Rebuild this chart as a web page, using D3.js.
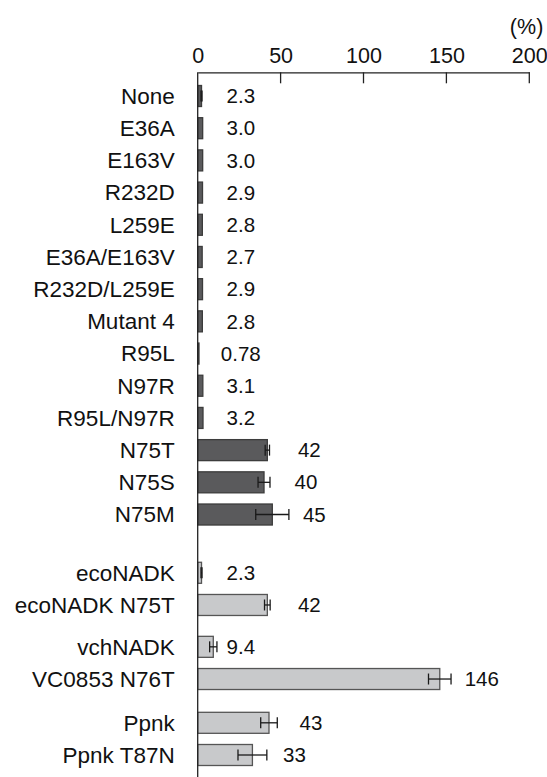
<!DOCTYPE html>
<html>
<head>
<meta charset="utf-8">
<script src="https://cdn.jsdelivr.net/npm/d3@7"></script>
<style>
  html, body { margin: 0; padding: 0; background: #fff; }
  svg { display: block; font-family: "Liberation Sans", Arial, sans-serif; }
</style>
</head>
<body>
<div id="chart"></div>
<script>
// ---- data ----
const categories = ["None", "E36A", "E163V", "R232D", "L259E", "E36A/E163V", "R232D/L259E",
  "Mutant 4", "R95L", "N97R", "R95L/N97R", "N75T", "N75S", "N75M",
  "ecoNADK", "ecoNADK N75T", "vchNADK", "VC0853 N76T", "Ppnk", "Ppnk T87N"];
const values = [2.3, 3.0, 3.0, 2.9, 2.8, 2.7, 2.9, 2.8, 0.78, 3.1, 3.2, 42, 40, 45,
  2.3, 42, 9.4, 146, 43, 33];
const valueLabels = ["2.3", "3.0", "3.0", "2.9", "2.8", "2.7", "2.9", "2.8", "0.78", "3.1", "3.2",
  "42", "40", "45", "2.3", "42", "9.4", "146", "43", "33"];
const errors = [0.3, 0, 0, 0, 0, 0, 0, 0, 0, 0, 0, 1.3, 3.6, 10,
  0.3, 1.7, 2.2, 6.8, 5, 8.7];
const groups = [0,0,0,0,0,0,0,0,0,0,0,0,0,0, 1,1, 2,2, 3,3];
const groupGaps = [0, 0.81, 0.30, 0.36];   // extra space (in rows) before each group
const groupFill = ["#5a5a5c", "#c8c9cb", "#c8c9cb", "#c8c9cb"];
const groupStroke = ["#3c3c3c", "#555555", "#555555", "#555555"];
const xTicks = [0, 50, 100, 150, 200];
const unitLabel = "(%)";

// ---- layout ----
const W = 547, H = 777;
const svg = d3.select("#chart").append("svg").attr("width", W).attr("height", H);

const x = d3.scaleLinear().domain([0, 200]).range([197.7, 529.3]);

// row positions including group gaps
let cum = 0;
const rows = categories.map((c, i) => {
  if (i > 0 && groups[i] !== groups[i - 1]) cum += groupGaps[groups[i]];
  return i + cum;
});
const y = d3.scaleLinear().domain([0, rows[rows.length - 1]]).range([96, 755]);
const barH = 21;
const axisY = 72.3;

const data = categories.map((c, i) => ({
  cat: c, v: values[i], e: errors[i], lab: valueLabels[i], g: groups[i], r: rows[i]
}));

// ---- top axis ----
const axis = d3.axisTop(x).tickValues(xTicks).tickSize(0).tickPadding(9).tickFormat(d3.format("d"));
const ax = svg.append("g").attr("transform", `translate(0,${axisY})`).call(axis);
ax.select(".domain").attr("stroke", "#222").attr("stroke-width", 1.3);
ax.selectAll(".tick text").attr("font-size", 21.5).attr("fill", "#111")
  .attr("font-family", "Liberation Sans, Arial, sans-serif");
// downward tick marks
svg.append("g").selectAll("line").data(xTicks.filter(d => d > 0)).join("line")
  .attr("x1", d => x(d)).attr("x2", d => x(d))
  .attr("y1", axisY).attr("y2", axisY + 11)
  .attr("stroke", "#222").attr("stroke-width", 1.3);

svg.append("text").attr("x", x(200) + 14).attr("y", 34)
  .attr("text-anchor", "end").attr("font-size", 21.5).attr("fill", "#111").text(unitLabel);

// ---- bars ----
svg.append("g").selectAll("rect").data(data).join("rect")
  .attr("x", x(0))
  .attr("y", d => y(d.r) - barH / 2)
  .attr("width", d => x(d.v) - x(0))
  .attr("height", barH)
  .attr("fill", d => groupFill[d.g])
  .attr("stroke", d => groupStroke[d.g])
  .attr("stroke-width", 1.3);

// ---- error bars ----
const eg = svg.append("g").attr("stroke", "#1a1a1a").attr("stroke-width", 1.3);
const withErr = data.filter(d => d.e > 0);
eg.selectAll("line.h").data(withErr).join("line").attr("class", "h")
  .attr("x1", d => x(d.v - d.e)).attr("x2", d => x(d.v + d.e))
  .attr("y1", d => y(d.r)).attr("y2", d => y(d.r));
eg.selectAll("line.l").data(withErr).join("line").attr("class", "l")
  .attr("x1", d => x(d.v - d.e)).attr("x2", d => x(d.v - d.e))
  .attr("y1", d => y(d.r) - 5.5).attr("y2", d => y(d.r) + 5.5);
eg.selectAll("line.r").data(withErr).join("line").attr("class", "r")
  .attr("x1", d => x(d.v + d.e)).attr("x2", d => x(d.v + d.e))
  .attr("y1", d => y(d.r) - 5.5).attr("y2", d => y(d.r) + 5.5);

// ---- vertical axis line ----
svg.append("line").attr("x1", x(0)).attr("x2", x(0)).attr("y1", axisY).attr("y2", H)
  .attr("stroke", "#222").attr("stroke-width", 1.3);

// ---- category labels ----
svg.append("g").selectAll("text").data(data).join("text")
  .attr("x", x(0) - 23)
  .attr("y", d => y(d.r))
  .attr("dy", "0.35em")
  .attr("text-anchor", "end")
  .attr("font-size", 22.5)
  .attr("fill", "#111")
  .text(d => d.cat);

// ---- value labels ----
svg.append("g").selectAll("text").data(data).join("text")
  .attr("x", d => d.v < 20 ? x(26) : x(d.v) + 42)
  .attr("y", d => y(d.r))
  .attr("dy", "0.35em")
  .attr("text-anchor", "middle")
  .attr("font-size", 20.5)
  .attr("fill", "#111")
  .text(d => d.lab);
</script>
</body>
</html>
